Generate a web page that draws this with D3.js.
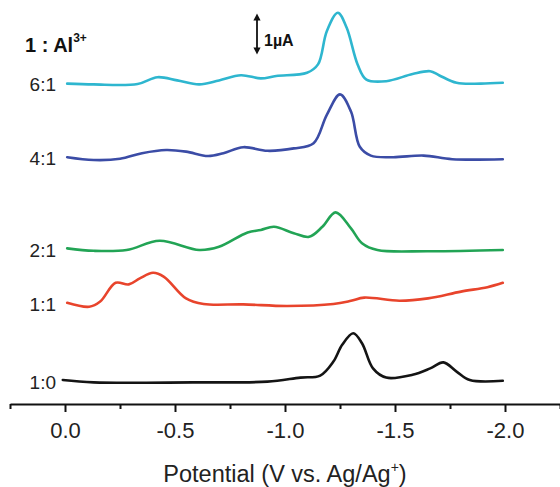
<!DOCTYPE html>
<html>
<head>
<meta charset="utf-8">
<script src="https://cdn.jsdelivr.net/npm/d3@7"></script>
<style>
  body { margin: 0; background: #fff; }
  svg text { font-family: "Liberation Sans", Arial, sans-serif; }
</style>
</head>
<body>
<div id="chart"></div>
<script>
// Voltammograms of 1 with increasing Al3+ (potential V, current uA relative to each baseline)
var seriesNames = ["1:0", "1:1", "2:1", "4:1", "6:1"];
var seriesColors = ["#141414", "#e8442c", "#22a455", "#3b4ca6", "#2eb6cf"];
var seriesOffsets = [0.55, 2.5, 3.85, 6.15, 8.0];

var potential10 = [0.01, -0.13, -0.58, -0.92, -1.07, -1.16, -1.22, -1.26, -1.31, -1.35, -1.40, -1.46, -1.58, -1.66, -1.72, -1.78, -1.84, -1.99];
var current10   = [0.05, -0.01, -0.01, 0.01, 0.11, 0.16, 0.51, 0.93, 1.22, 0.97, 0.34, 0.11, 0.18, 0.34, 0.49, 0.26, 0.05, 0.03];

var potential11 = [-0.01, -0.11, -0.16, -0.23, -0.29, -0.34, -0.40, -0.45, -0.55, -0.63, -0.81, -1.01, -1.22, -1.30, -1.36, -1.52, -1.65, -1.80, -1.92, -1.99];
var current11   = [0.03, -0.07, 0.06, 0.53, 0.49, 0.64, 0.78, 0.68, 0.14, 0.0, -0.01, -0.05, 0.0, 0.08, 0.16, 0.08, 0.14, 0.31, 0.42, 0.53];

var potential21 = [-0.01, -0.13, -0.28, -0.43, -0.61, -0.70, -0.83, -0.89, -0.95, -1.04, -1.11, -1.17, -1.23, -1.30, -1.35, -1.42, -1.65, -1.99];
var current21   = [0.04, -0.02, 0.0, 0.23, 0.0, 0.08, 0.44, 0.5, 0.58, 0.42, 0.33, 0.58, 0.94, 0.54, 0.17, 0.0, -0.03, 0.0];

var potential41 = [-0.01, -0.13, -0.25, -0.35, -0.46, -0.55, -0.65, -0.72, -0.81, -0.92, -1.04, -1.13, -1.19, -1.25, -1.30, -1.34, -1.39, -1.49, -1.63, -1.76, -1.99];
var current41   = [0.02, -0.05, -0.02, 0.12, 0.2, 0.16, 0.05, 0.12, 0.27, 0.18, 0.24, 0.37, 1.08, 1.59, 1.16, 0.28, 0.06, 0.02, 0.06, -0.03, -0.03];

var potential61 = [-0.01, -0.13, -0.33, -0.42, -0.51, -0.61, -0.70, -0.80, -0.89, -0.96, -1.10, -1.15, -1.19, -1.24, -1.28, -1.33, -1.37, -1.46, -1.58, -1.66, -1.70, -1.78, -1.89, -1.99];
var current61   = [0.01, -0.01, 0.0, 0.17, 0.09, -0.01, 0.09, 0.22, 0.14, 0.2, 0.28, 0.49, 1.32, 1.78, 1.41, 0.49, 0.11, 0.07, 0.25, 0.32, 0.22, 0.03, 0.01, 0.03];

var majorTicks = [0.0, -0.5, -1.0, -1.5, -2.0];
var minorTicks = [0.25, -0.25, -0.75, -1.25, -1.75, -2.25];

var potentials = [potential10, potential11, potential21, potential41, potential61];
var currents = [current10, current11, current21, current41, current61];

var W = 560, H = 487;
var svg = d3.select("#chart").append("svg")
    .attr("width", W)
    .attr("height", H)
    .attr("font-family", "'Liberation Sans', Arial, sans-serif");

var x = d3.scaleLinear().domain([0.25, -2.25]).range([10, 560]);
var y = d3.scaleLinear().domain([0, 10]).range([404, 4]);

// Curves
var line = d3.line()
    .x(function(d) { return x(d[0]); })
    .y(function(d) { return y(d[1]); })
    .curve(d3.curveCatmullRom.alpha(0.5));

for (var i = 0; i < seriesNames.length; i++) {
    var pts = potentials[i].map(function(v, j) { return [v, currents[i][j] + seriesOffsets[i]]; });
    svg.append("path")
        .datum(pts)
        .attr("d", line)
        .attr("fill", "none")
        .attr("stroke", seriesColors[i])
        .attr("stroke-width", 2.6)
        .attr("stroke-linejoin", "round")
        .attr("stroke-linecap", "round");

    svg.append("text")
        .attr("x", 56)
        .attr("y", y(seriesOffsets[i]) + 7)
        .attr("text-anchor", "end")
        .attr("font-size", "19px")
        .attr("fill", "#222")
        .text(seriesNames[i]);
}

// Axis
var axisG = svg.append("g").attr("transform", "translate(0," + y(0) + ")");
axisG.call(d3.axisBottom(x).tickValues(majorTicks).tickSize(8).tickSizeOuter(0)
    .tickFormat(function(d) { return d.toFixed(1); }));
axisG.attr("font-family", null);
axisG.select(".domain").attr("stroke", "#111").attr("stroke-width", 2);
axisG.selectAll(".tick line").attr("stroke", "#111").attr("stroke-width", 2);
axisG.selectAll(".tick text")
    .attr("font-size", "22px")
    .attr("fill", "#222")
    .attr("dy", "0")
    .attr("y", 34);
var minorG = svg.append("g").attr("transform", "translate(0," + y(0) + ")");
minorG.call(d3.axisBottom(x).tickValues(minorTicks).tickSize(5).tickSizeOuter(0).tickFormat(""));
minorG.select(".domain").remove();
minorG.selectAll(".tick line").attr("stroke", "#111").attr("stroke-width", 2);

// X label
var xl = svg.append("text")
    .attr("x", 285)
    .attr("y", 482)
    .attr("text-anchor", "middle")
    .attr("font-size", "23.5px")
    .attr("fill", "#222");
xl.append("tspan").text("Potential (V vs. Ag/Ag");
xl.append("tspan").attr("font-size", "14px").attr("dy", -10).text("+");
xl.append("tspan").attr("dy", 10).text(")");

// Title label
var tl = svg.append("text")
    .attr("x", 25)
    .attr("y", 52)
    .attr("font-size", "20px")
    .attr("font-weight", "bold")
    .attr("fill", "#111");
tl.append("tspan").text("1 : Al");
tl.append("tspan").attr("font-size", "12px").attr("dy", -10).text("3+");

// Scale bar 1 uA
var defs = svg.append("defs");
defs.append("marker")
    .attr("id", "ah")
    .attr("viewBox", "0 0 10 10")
    .attr("refX", 5).attr("refY", 5)
    .attr("markerWidth", 4).attr("markerHeight", 4)
    .attr("orient", "auto-start-reverse")
    .append("path")
    .attr("d", "M0,0 L10,5 L0,10 z")
    .attr("fill", "#111");
svg.append("line")
    .attr("x1", 257).attr("x2", 257)
    .attr("y1", y(8.75) - 3).attr("y2", y(9.75) + 3)
    .attr("stroke", "#111")
    .attr("stroke-width", 1.8)
    .attr("marker-start", "url(#ah)")
    .attr("marker-end", "url(#ah)");
svg.append("text")
    .attr("x", 264)
    .attr("y", 46)
    .attr("font-size", "16px")
    .attr("font-weight", "bold")
    .attr("fill", "#111")
    .text("1µA");
</script>
</body>
</html>
